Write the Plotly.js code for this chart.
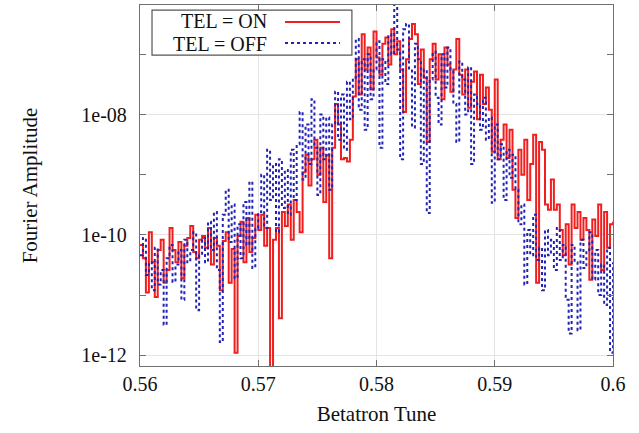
<!DOCTYPE html>
<html>
<head>
<meta charset="utf-8">
<script src="https://cdn.plot.ly/plotly-3.0.1.min.js"></script>
<style>html,body{margin:0;padding:0;background:#fff;}#chart{width:639px;height:433px;}</style>
</head>
<body>
<div id="chart"></div>
<script>
const tune = [
0.56,0.56025,0.5605,0.56075,0.561,0.56125,0.5615,0.56175,0.562,0.56225,
0.5625,0.56275,0.563,0.56325,0.5635,0.56375,0.564,0.56425,0.5645,0.56475,
0.565,0.56525,0.5655,0.56575,0.566,0.56625,0.5665,0.56675,0.567,0.56725,
0.5675,0.56775,0.568,0.56825,0.5685,0.56875,0.569,0.56925,0.5695,0.56975,
0.57,0.57025,0.5705,0.57075,0.571,0.57125,0.5715,0.57175,0.572,0.57225,
0.5725,0.57275,0.573,0.57325,0.5735,0.57375,0.574,0.57425,0.5745,0.57475,
0.575,0.57525,0.5755,0.57575,0.576,0.57625,0.5765,0.57675,0.577,0.57725,
0.5775,0.57775,0.578,0.57825,0.5785,0.57875,0.579,0.57925,0.5795,0.57975,
0.58,0.58025,0.5805,0.58075,0.581,0.58125,0.5815,0.58175,0.582,0.58225,
0.5825,0.58275,0.583,0.58325,0.5835,0.58375,0.584,0.58425,0.5845,0.58475,
0.585,0.58525,0.5855,0.58575,0.586,0.58625,0.5865,0.58675,0.587,0.58725,
0.5875,0.58775,0.588,0.58825,0.5885,0.58875,0.589,0.58925,0.5895,0.58975,
0.59,0.59025,0.5905,0.59075,0.591,0.59125,0.5915,0.59175,0.592,0.59225,
0.5925,0.59275,0.593,0.59325,0.5935,0.59375,0.594,0.59425,0.5945,0.59475,
0.595,0.59525,0.5955,0.59575,0.596,0.59625,0.5965,0.59675,0.597,0.59725,
0.5975,0.59775,0.598,0.59825,0.5985,0.59875,0.599,0.59925,0.5995,0.59975,
0.6
];

const ampOn = [
6.8e-11,4.1e-11,1.1e-11,1.1e-10,3.5e-11,9.3e-12,5.6e-11,8.3e-11,1.6e-11,2.6e-11,
1.3e-10,5.6e-11,3.5e-11,7.6e-11,1.9e-11,6.6e-11,8.9e-11,1.4e-10,5.2e-11,4.1e-11,
8.3e-11,9.6e-11,6.1e-11,1.3e-10,3.2e-11,8.9e-11,6.6e-11,1.2e-11,7.9e-11,1.1e-10,
1.6e-11,5.8e-11,1.1e-12,9.6e-11,1.65e-10,3.5e-11,1.9e-10,5.2e-11,8.9e-11,2.15e-10,
1.2e-10,2.15e-10,6.6e-11,1.3e-10,1e-13,8.3e-11,1.3e-10,4.1e-12,2.4e-10,1.4e-10,
3.2e-10,8.3e-11,3.8e-10,2.4e-10,1.1e-10,1.1e-9,2.15e-9,6.6e-10,1.8e-9,3.8e-9,
1e-9,2.8e-9,3.5e-10,2.1e-9,4.1e-11,2.8e-9,1.5e-8,6.8e-9,1.8e-9,1.9e-9,
1.65e-9,3.8e-9,2e-8,8.3e-8,2.15e-8,2.15e-7,5.6e-8,1.3e-7,2.6e-8,2.4e-7,
8.9e-8,4.6e-8,1.5e-7,1.9e-7,6.8e-8,2.6e-7,1e-7,1.65e-7,5.6e-8,1.1e-8,
8.3e-8,1.8e-7,3.2e-7,2.15e-7,3.2e-8,1.2e-7,4.1e-8,3.5e-9,8.3e-8,1.5e-7,
3.8e-8,1e-7,1.8e-8,1.3e-7,6.8e-8,2.4e-8,5.6e-8,1.8e-7,4.6e-8,2.15e-8,
5.6e-8,1.3e-8,3.5e-8,5.2e-8,8.3e-9,4.6e-8,1.5e-8,2.8e-8,1.2e-8,2.4e-9,
3.8e-8,1.8e-9,3.8e-9,6.8e-9,1.9e-9,5.6e-9,5.6e-10,1.9e-10,2.6e-9,1e-9,
3.8e-9,3.8e-10,1.5e-9,4.6e-9,1.6e-11,3.5e-9,2.6e-9,3.2e-10,2.6e-10,8.3e-10,
2.6e-10,3.2e-10,1.2e-10,4.6e-11,1.5e-10,3.2e-11,3.2e-10,1.3e-10,2.4e-10,8.3e-11,
1.9e-10,1.2e-10,1.8e-11,1.8e-10,9.6e-11,3.2e-10,2.6e-11,2.4e-10,6.1e-11,1.5e-10,
1.65e-10
];

const ampOff = [
4.6e-11,8.9e-11,2.15e-11,3.5e-11,1.2e-11,6.1e-11,1.5e-11,2.6e-11,3.2e-12,4.1e-11,
6.8e-11,1.65e-11,3.2e-11,5.6e-11,8.3e-12,8.3e-11,3.5e-11,5.6e-11,1.1e-10,5.6e-12,
4.6e-11,8.9e-11,3.5e-11,1.65e-10,5.6e-11,2.4e-10,2.6e-11,1.65e-12,2.15e-10,5.6e-10,
7.6e-11,3.2e-10,1.9e-11,1.5e-10,4.1e-11,3.5e-10,6.8e-11,7.6e-10,2.8e-11,1.3e-10,
2.4e-10,1e-9,1.3e-10,2.6e-9,3.8e-10,1.5e-9,1.1e-10,1.8e-9,2.8e-10,1.2e-9,
2.15e-10,2.6e-9,3.8e-10,3.2e-9,1.1e-8,8.3e-10,6.8e-9,1.5e-9,1.8e-8,2.8e-9,
4.6e-10,1e-8,1.8e-9,8.9e-9,5.6e-10,6.8e-9,2.4e-8,3.8e-9,2.15e-8,2.6e-9,
3.5e-8,8.3e-9,4.1e-8,1.8e-7,1.2e-8,8.3e-8,5.6e-9,1e-7,1.8e-8,5.6e-8,
1.65e-7,2.8e-9,8.3e-8,3.2e-8,2.15e-7,1e-7,7.4e-7,1.2e-7,1.8e-9,2.6e-7,
3.2e-7,5.6e-8,6.1e-9,1.5e-7,8.3e-8,1.5e-9,5.6e-8,2.3e-10,3.8e-8,1.1e-7,
1.9e-8,6.8e-9,1e-7,2.8e-8,1.3e-7,5.6e-8,1.5e-8,3.5e-9,7.6e-8,3.8e-8,
1e-8,6.1e-8,1.5e-9,2.15e-8,1.5e-8,5.6e-9,1.9e-8,3.8e-9,8.9e-9,3.4e-10,
6.8e-9,1.8e-9,3.2e-9,3.8e-10,2.6e-9,8.9e-10,2.15e-9,5.6e-10,1.5e-10,3.2e-10,
1.5e-11,1.2e-10,4.6e-11,2.15e-10,3.8e-11,6.1e-11,1.2e-11,1.2e-10,4.6e-11,8.3e-11,
2.6e-11,1.3e-10,3.8e-11,6.8e-11,8.3e-12,2.3e-12,6.8e-11,3.5e-11,2.6e-12,8.3e-11,
2.8e-11,5.6e-11,1.1e-10,1.8e-11,5.6e-11,1e-11,3.2e-11,6.8e-12,6.1e-11,1.1e-12,
3.5e-11
];

const seriesNames = ["TEL = ON", "TEL = OFF"];
const xTickVals = [0.56, 0.57, 0.58, 0.59, 0.6];
const xTickText = ["0.56", "0.57", "0.58", "0.59", "0.6"];
const yTickVals = [1e-12, 1e-10, 1e-8];
const yTickText = ["1e-12", "1e-10", "1e-08"];
const yMinorVals = [1e-11, 1e-9, 1e-7];

const serif = "'Liberation Serif', 'Times New Roman', serif";
const red = "#f01e1e";
const blue = "#2222b4";

const traces = [
  {x: tune, y: ampOn, name: seriesNames[0], type: "scatter", mode: "lines",
   line: {shape: "hv", color: red, width: 2}, showlegend: false},
  {x: tune, y: ampOff, name: seriesNames[1], type: "scatter", mode: "lines",
   line: {shape: "hv", color: blue, width: 2, dash: "dot"}, showlegend: false}
];

const axisCommon = {
  showline: true, linecolor: "#707070", linewidth: 1.2, mirror: "ticks",
  ticks: "inside", ticklen: 6, tickcolor: "#707070",
  gridcolor: "#e4e4e4", gridwidth: 1, zeroline: false,
  tickfont: {family: serif, size: 20, color: "#111"}
};

const layout = {
  width: 639, height: 433,
  margin: {l: 140, r: 26, t: 5, b: 67},
  paper_bgcolor: "#fff", plot_bgcolor: "#fff",
  showlegend: false,
  xaxis: Object.assign({}, axisCommon, {
    range: [0.56, 0.6], tickmode: "array", tickvals: xTickVals, ticktext: xTickText,
    title: {text: "Betatron Tune", font: {family: serif, size: 21, color: "#111"}, standoff: 12}
  }),
  yaxis: Object.assign({}, axisCommon, {
    type: "log", range: [-12.18, -6.18], tickmode: "array", tickvals: yTickVals, ticktext: yTickText,
    ticklabelstandoff: 8,
    minor: {tickmode: "array", tickvals: yMinorVals, ticks: "inside", ticklen: 6, tickcolor: "#707070", showgrid: false},
    title: {text: "Fourier Amplitude", font: {family: serif, size: 21, color: "#111"}, standoff: 38}
  }),
  shapes: [
    {type: "rect", xref: "paper", yref: "paper", x0: 0.0254, x1: 0.448, y0: 0.861, y1: 0.986,
     line: {color: "#555", width: 1.2}, fillcolor: "#fff", layer: "above"},
    {type: "line", xref: "paper", yref: "paper", x0: 0.3066, x1: 0.4228, y0: 0.953, y1: 0.953,
     line: {color: red, width: 2}, layer: "above"},
    {type: "line", xref: "paper", yref: "paper", x0: 0.3066, x1: 0.4228, y0: 0.895, y1: 0.895,
     line: {color: blue, width: 2, dash: "dot"}, layer: "above"}
  ],
  annotations: [
    {xref: "paper", yref: "paper", x: 0.271, y: 0.955, xanchor: "right", yanchor: "middle",
     text: seriesNames[0], showarrow: false, borderpad: 0, font: {family: serif, size: 20, color: "#111"}},
    {xref: "paper", yref: "paper", x: 0.271, y: 0.892, xanchor: "right", yanchor: "middle",
     text: seriesNames[1], showarrow: false, borderpad: 0, font: {family: serif, size: 20, color: "#111"}}
  ]
};

Plotly.newPlot("chart", traces, layout, {displayModeBar: false, staticPlot: true});
</script>
</body>
</html>
